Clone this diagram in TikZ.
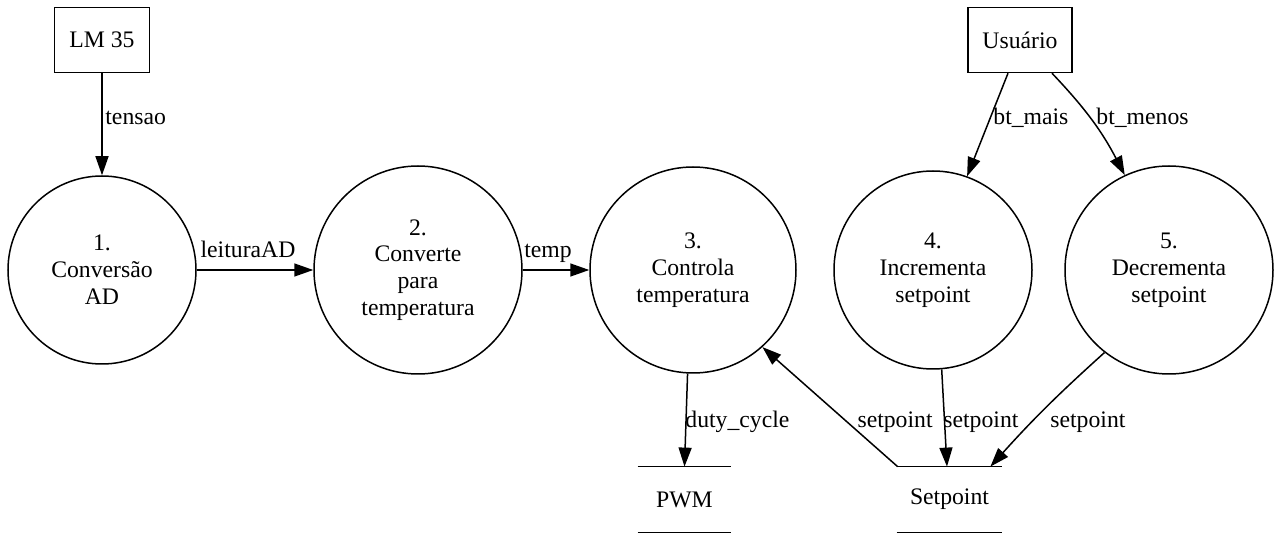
\documentclass[tikz,border=0pt]{standalone}
\usepackage{fontspec}
\setmainfont{Liberation Serif}
\usetikzlibrary{arrows.meta}
\begin{document}
\begin{tikzpicture}[x=0.5pt,y=-0.5pt,
  every node/.style={font=\fontsize{11.85}{13.4}\selectfont},
  proc/.style={circle,draw,line width=0.75pt,minimum size=#1,inner sep=0pt,align=center},
  ext/.style={draw,line width=0.75pt,minimum width=#1,minimum height=32.5pt,inner sep=0pt},
  store/.style={minimum width=#1,minimum height=32.5pt,inner sep=0pt},
  flow/.style={line width=0.75pt,-{Triangle[length=9.5pt,width=6.5pt]}},
  lbl/.style={inner sep=0pt}]
\useasboundingbox (0,0) rectangle (1276,534);
% external entities
\node[ext=47.5pt] (lm) at (102,40) {LM 35};
\node[ext=52pt] (us) at (1020,40) {Usuário};
% processes
\node[proc=94pt] (c1) at (102,270) {1.\\Conversão\\AD};
\node[proc=104pt] (c2) at (418,270) {2.\\Converte\\para\\temperatura};
\node[proc=103pt] (c3) at (693,270) {3.\\Controla\\temperatura};
\node[proc=99pt] (c4) at (933,270) {4.\\Incrementa\\setpoint};
\node[proc=104pt] (c5) at (1169,270) {5.\\Decrementa\\setpoint};
% data stores
\node[store=46.5pt] (pwm) at (684.5,499.5) {PWM};
\node[store=52.5pt] (sp) at (949.5,499.5) {Setpoint};
\foreach \s in {pwm,sp}{
  \draw[line width=0.75pt] (\s.north west) -- (\s.north east);
  \draw[line width=0.75pt] (\s.south west) -- (\s.south east);
}
% flows
\draw[flow] (lm.south) -- (c1.north);
\draw[flow] (c1.east) -- (c2.west);
\draw[flow] (c2.east) -- (c3.west);
\draw[flow] (c3.-93) -- (pwm.north);
\draw[flow] ([xshift=0.5pt]sp.north west) -- (c3.-48);
\draw[flow] (c4.-85) -- ([xshift=-1.25pt]sp.north);
\draw[flow] (c5.-128) to[bend right=3] ([xshift=-6pt]sp.north east);
\draw[flow] ([xshift=-6pt]us.south) -- (c4.70);
\draw[flow] ([xshift=16pt]us.south) to[bend left=8] (c5.115);
% labels
\node[lbl,anchor=west] (ltensao) at (105,118) {tensao};
\node[lbl] (lleit) at (248,249) {leituraAD};
\node[lbl] (ltemp) at (548,253) {temp};
\node[lbl,anchor=west] (lduty) at (685,422) {duty\_cycle};
\node[lbl,anchor=east] (lsp1) at (933,422) {setpoint};
\node[lbl,anchor=west] (lsp2) at (943,422) {setpoint};
\node[lbl,anchor=west] (lsp3) at (1050,422) {setpoint};
\node[lbl,anchor=west] (lmais) at (993,118) {bt\_mais};
\node[lbl,anchor=west] (lmenos) at (1096,118) {bt\_menos};
\end{tikzpicture}
\end{document}
